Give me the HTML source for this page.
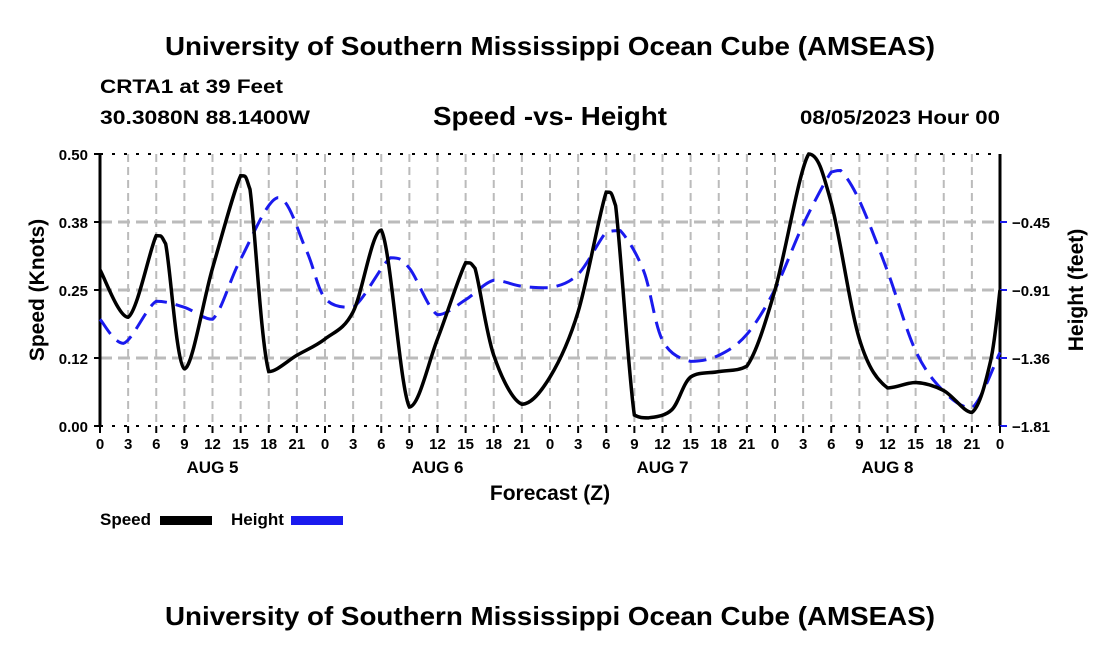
<!DOCTYPE html>
<html><head><meta charset="utf-8"><style>
body{margin:0;background:#fff;width:1100px;height:650px;overflow:hidden}
svg text{font-family:"Liberation Sans",Arial,sans-serif;font-weight:bold;fill:#000}
</style></head><body>
<svg id="c" width="1100" height="650">
<text x="165" y="55" font-size="26" textLength="770" lengthAdjust="spacingAndGlyphs">University of Southern Mississippi Ocean Cube (AMSEAS)</text>
<text x="100" y="93" font-size="19" textLength="183" lengthAdjust="spacingAndGlyphs">CRTA1 at 39 Feet</text>
<text x="100" y="124" font-size="19" textLength="210" lengthAdjust="spacingAndGlyphs">30.3080N  88.1400W</text>
<text x="433" y="125" font-size="26" textLength="234" lengthAdjust="spacingAndGlyphs">Speed -vs- Height</text>
<text x="800" y="124" font-size="19" textLength="200" lengthAdjust="spacingAndGlyphs">08/05/2023 Hour 00</text>
<text x="165" y="625" font-size="26" textLength="770" lengthAdjust="spacingAndGlyphs">University of Southern Mississippi Ocean Cube (AMSEAS)</text>
<text transform="translate(44,290) rotate(-90)" font-size="21" text-anchor="middle">Speed (Knots)</text>
<text transform="translate(1083,290) rotate(-90)" font-size="21" text-anchor="middle">Height (feet)</text>
<text x="550" y="500" font-size="21" text-anchor="middle">Forecast (Z)</text>
<g>
<text x="100" y="525" font-size="17">Speed</text>
<rect x="160" y="516" width="52" height="9" fill="#000"/>
<text x="231" y="525" font-size="17">Height</text>
<rect x="291" y="516" width="52" height="9" fill="#1a1aee"/>
</g>
<g id="plot"></g>
</svg>
<script>
const speedHours=[0,3,6,7,9,12,15,16,18,21,24,27,30,33,36,39,40,42,45,48,51,54,55,57,58.5,61,63,66,69,72,75.6,78,81,84,87,90,93,95,96];
const speedVals=[0.287,0.20,0.35,0.335,0.105,0.29,0.46,0.435,0.10,0.13,0.16,0.21,0.36,0.035,0.16,0.30,0.29,0.13,0.04,0.09,0.21,0.43,0.405,0.02,0.015,0.03,0.09,0.10,0.11,0.25,0.50,0.41,0.16,0.07,0.08,0.065,0.025,0.12,0.25];
const heightHours=[0,2.5,6,9,12,15,19,22,24,27,31,33,36,39,42,45,48,51,54,55.5,58,60,63,66,69,72,75,78,79,81,84,87,90,93,96];
const heightVals=[-1.10,-1.26,-0.98,-1.02,-1.10,-0.70,-0.29,-0.64,-0.96,-1.02,-0.69,-0.76,-1.07,-0.97,-0.84,-0.88,-0.89,-0.80,-0.52,-0.51,-0.78,-1.24,-1.38,-1.34,-1.20,-0.90,-0.47,-0.12,-0.11,-0.31,-0.78,-1.31,-1.58,-1.69,-1.32];
const speedTicks=["0.00","0.12","0.25","0.38","0.50"];
const heightTicks=["-1.81","-1.36","-0.91","-0.45"];
const hourTicks=["0","3","6","9","12","15","18","21"];
const dayLabels=["AUG 5","AUG 6","AUG 7","AUG 8"];
const X0=100,X1=1000,Y0=426,Y1=154;
const xs=h=>X0+(X1-X0)*h/96;
const ys=v=>Y0-(Y0-Y1)*v/0.5;
const yh=v=>Y0-(Y0-Y1)*(v+1.81)/1.81;
const NS="http://www.w3.org/2000/svg",g=document.getElementById('plot');
function mk(t,a){const e=document.createElementNS(NS,t);for(const k in a)e.setAttribute(k,a[k]);g.appendChild(e);return e;}
for(let h=3;h<96;h+=3){const e=mk('line',{x1:xs(h),x2:xs(h),y1:Y1,y2:Y0,stroke:'#bbb','stroke-width':2,'stroke-dasharray':'8,5'});

}
for(let i=1;i<4;i++){const e=mk('line',{x1:X0,x2:X1,y1:ys(i*0.125),y2:ys(i*0.125),stroke:'#bbb','stroke-width':3,'stroke-dasharray':'12,6'});

}
[[X0,Y1,X1,Y1,'3,9'],[X0,Y0,X1,Y0,'3,9']].forEach(l=>{const e=mk('line',{x1:l[0],y1:l[1],x2:l[2],y2:l[3],stroke:'#000','stroke-width':2,'stroke-dasharray':l[4]});

});
[X0,X1].forEach(x=>{const e=mk('line',{x1:x,x2:x,y1:Y1,y2:Y0,stroke:'#000','stroke-width':3});

});
speedTicks.forEach((t,i)=>{const y=ys(i*0.125);mk('line',{x1:X0-6,x2:X0,y1:y,y2:y,stroke:'#000','stroke-width':2});
const e=mk('text',{x:X0-12,y:y+6,'font-size':15,'text-anchor':'end'});e.textContent=t;

});
heightTicks.forEach((t,i)=>{const y=Y0-(Y0-Y1)*i/4;mk('line',{x1:X1,x2:X1+7,y1:y,y2:y,stroke:'#1a1aee','stroke-width':2});
const e=mk('text',{x:X1+12,y:y+6,'font-size':15});e.textContent=t.replace('-','\u2212');

});
for(let h=0;h<=96;h+=3){const x=xs(h);mk('line',{x1:x,x2:x,y1:Y0,y2:Y0+7,stroke:'#000','stroke-width':2});
const e=mk('text',{x:x,y:Y0+23,'font-size':15,'text-anchor':'middle'});e.textContent=h===96?"0":hourTicks[(h/3)%8];

}
dayLabels.forEach((d,i)=>{const e=mk('text',{x:xs(i*24+12),y:Y0+47,'font-size':17,'text-anchor':'middle'});e.textContent=d;

});
// Catmull-Rom with control points clamped to segment range (sharp peaks, no overshoot)
function path(hs,vs,f){const p=hs.map((h,i)=>[xs(h),f(vs[i])]);const n=p.length;let s='M'+p[0];
const cl=(v,a,b)=>Math.max(Math.min(a,b),Math.min(Math.max(a,b),v));
for(let i=0;i<n-1;i++){const a=p[Math.max(0,i-1)],b=p[i],c=p[i+1],e=p[Math.min(n-1,i+2)];
const c1=[b[0]+(c[0]-a[0])/6,cl(b[1]+(c[1]-a[1])/6,b[1],c[1])],c2=[c[0]-(e[0]-b[0])/6,cl(c[1]-(e[1]-b[1])/6,b[1],c[1])];
s+=' C'+c1+' '+c2+' '+c;}return s;}
const hp=mk('path',{d:path(heightHours,heightVals,yh),fill:'none',stroke:'#1a1aee','stroke-width':3,'stroke-dasharray':'18,9'});


const sp=mk('path',{d:path(speedHours,speedVals,ys),fill:'none',stroke:'#000','stroke-width':3.5});


</script>
</body></html>
